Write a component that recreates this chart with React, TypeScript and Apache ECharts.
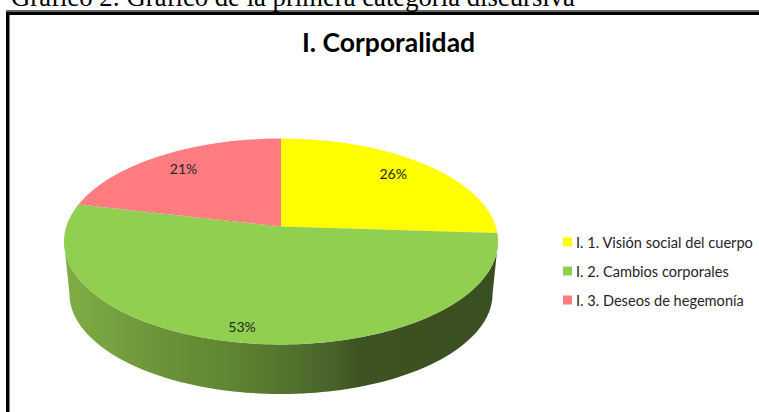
import React, { useEffect, useRef } from "react";
import * as echarts from "echarts";

const categories = ["I. 1. Visión social del cuerpo", "I. 2. Cambios corporales", "I. 3. Deseos de hegemonía"];
const values = [26, 52.6, 21.4];
const colors = ["#FFFF00", "#90CF4F", "#FF7C80"];
const titleText = "I. Corporalidad";
const captionText = "Gráfico 2: Gráfico de la primera categoría discursiva";

// Perspective model of the tilted disc
const CX = 281;
const TOP_Y = 226.5;
const BOTTOM_Y = 279;
const BOTTOM_SCALE = 0.975;
const RX = 214.7;
const RY = 100.8;
const K = 0.1456;
const LABEL_R = 0.75;
const labelNudges = [[3, -5], [-13, 16], [-5, -4]];
const FRONT_START = 98.4;
const FRONT_END = 261.6;

const total = values.reduce((a, b) => a + b, 0);
const project = (deg: number, r: number, y0: number, s: number): number[] => {
  const a = (deg * Math.PI) / 180;
  const u = Math.sin(a) * r;
  const v = -Math.cos(a) * r;
  const d = 1 - K * v;
  return [CX + (s * RX * u) / d, y0 + (s * RY * v) / d];
};
const arc = (from: number, to: number, y0: number, s: number): number[][] => {
  const n = Math.max(2, Math.ceil((to - from) / 1.5));
  const pts: number[][] = [];
  for (let i = 0; i <= n; i++) pts.push(project(from + ((to - from) * i) / n, 1, y0, s));
  return pts;
};

export default function App() {
  const ref = useRef<HTMLDivElement>(null);
  useEffect(() => {
    const chart = echarts.init(ref.current!, null, { renderer: "svg" });
    const wallFill = new echarts.graphic.LinearGradient(0, 0, 1, 0, [
      { offset: 0, color: "#80AE45" },
      { offset: 0.24, color: "#6A9238" },
      { offset: 0.39, color: "#5F8433" },
      { offset: 0.53, color: "#52712C" },
      { offset: 0.63, color: "#46602A" },
      { offset: 0.68, color: "#3D5321" },
      { offset: 1, color: "#3A4F20" },
    ]);
    const starts: number[] = [];
    values.reduce((acc, v, i) => {
      starts[i] = acc;
      return acc + v;
    }, 0);
    const series = categories.map((name, i) => ({
      type: "custom",
      name,
      coordinateSystem: "none",
      silent: true,
      itemStyle: { color: colors[i] },
      data: [[values[i]]],
      renderItem: (_p: any, api: any) => {
        const v = api.value(0);
        const from = (starts[i] / total) * 360;
        const to = from + (v / total) * 360;
        const children: any[] = [];
        const wf = Math.max(from, FRONT_START);
        const wt = Math.min(to, FRONT_END);
        if (wt > wf) {
          children.push({
            type: "polygon",
            shape: { points: [...arc(wf, wt, TOP_Y, 1), ...arc(wf, wt, BOTTOM_Y, BOTTOM_SCALE).reverse()] },
            style: { fill: wallFill },
          });
        }
        children.push({
          type: "polygon",
          shape: { points: [project(from, 0, TOP_Y, 1), ...arc(from, to, TOP_Y, 1)] },
          style: { fill: colors[i] },
        });
        const mid = project((from + to) / 2, LABEL_R, TOP_Y, 1);
        children.push({
          type: "text",
          z2: 10,
          style: {
            x: mid[0] + labelNudges[i][0],
            y: mid[1] + labelNudges[i][1],
            text: `${Math.round((v / total) * 100)}%`,
            font: "14px Lato",
            fill: "#262626",
            align: "center",
            verticalAlign: "middle",
          },
        });
        return { type: "group", children };
      },
    }));
    chart.setOption({
      animation: false,
      backgroundColor: "#fff",
      title: {
        text: titleText,
        left: 383.5,
        top: 23,
        textAlign: "center",
        textStyle: { fontFamily: "Lato", fontWeight: "bold", fontSize: 26.5, color: "#000" },
      },
      legend: {
        orient: "vertical",
        left: 558,
        top: 229.5,
        itemWidth: 9,
        itemHeight: 9,
        itemGap: 14,
        icon: "rect",
        data: categories,
        selectedMode: false,
        textStyle: { fontFamily: "Lato", fontSize: 14.6, color: "#262626", padding: [0, 0, 0, -1] },
      },
      graphic: [
        { type: "rect", shape: { x: 6, y: 10, width: 753, height: 2 }, style: { fill: "#666" } },
        { type: "rect", shape: { x: 6, y: 12, width: 753, height: 3 }, style: { fill: "#000" } },
        { type: "rect", shape: { x: 6, y: 12, width: 3.5, height: 400 }, style: { fill: "#000" } },
        {
          type: "text",
          style: {
            x: 11,
            y: 10,
            text: captionText,
            font: '26.7px "Liberation Serif"',
            fill: "#000",
            verticalAlign: "bottom",
          },
        },
      ],
      series,
    });
    return () => chart.dispose();
  }, []);
  return <div ref={ref} style={{ position: "fixed", left: 0, top: 0, width: 759, height: 412 }} />;
}
